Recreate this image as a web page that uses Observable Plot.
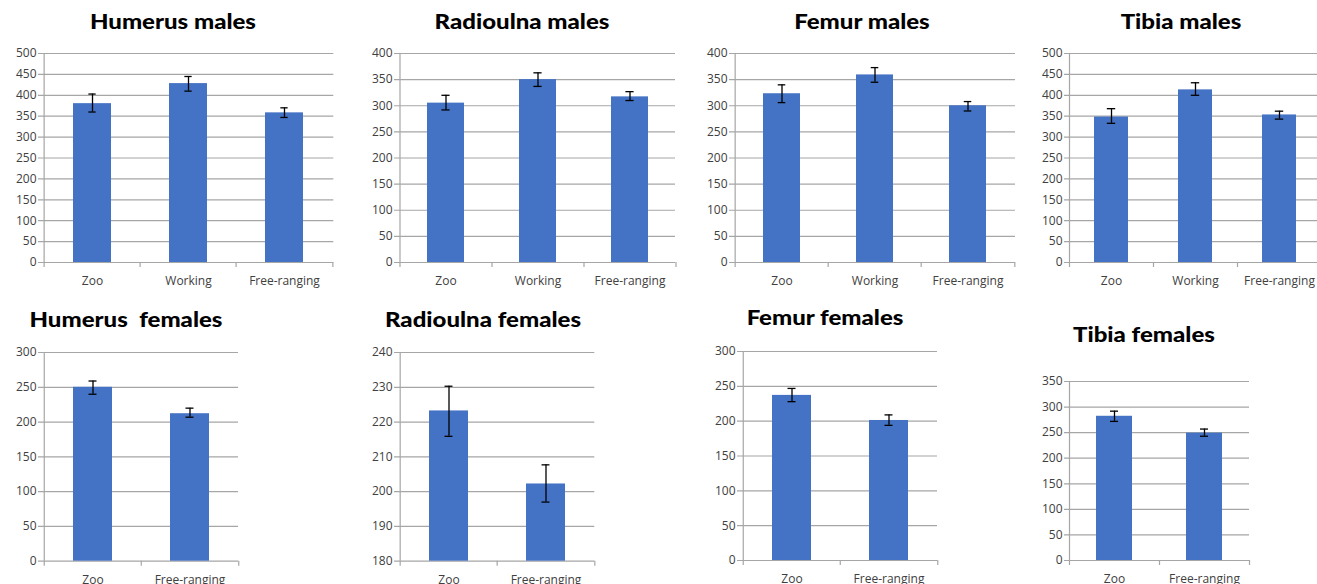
<!DOCTYPE html>
<html><head><meta charset="utf-8">
<script src="https://cdn.jsdelivr.net/npm/d3@7"></script>
<script src="https://cdn.jsdelivr.net/npm/@observablehq/plot@0.6"></script>
<style>
html,body{margin:0;padding:0;background:#fff;overflow:hidden}
#chart{position:relative;width:1317px;height:584px;overflow:hidden;background:#fff}
.panel{position:absolute}
.title{position:absolute;font-family:Lato,"Open Sans",sans-serif;font-weight:900;font-size:20.5px;color:#000;white-space:pre;text-align:center;width:300px;line-height:20px;transform:scaleX(1.17);transform-origin:150px 50%}
</style></head><body><div id="chart"></div>
<script>
// ---- data ----
const maleGroups = ["Zoo", "Working", "Free-ranging"];
const femaleGroups = ["Zoo", "Free-ranging"];

const titles = ["Humerus males", "Radioulna males", "Femur males", "Tibia males",
                "Humerus  females", "Radioulna females", "Femur females", "Tibia females"];

const humerusMalesMean = [380, 428, 358];
const humerusMalesLow  = [360, 410, 347];
const humerusMalesHigh = [403, 445, 370];

const radioulnaMalesMean = [305, 350, 317];
const radioulnaMalesLow  = [292, 337, 310];
const radioulnaMalesHigh = [320, 363, 327];

const femurMalesMean = [323, 359, 300];
const femurMalesLow  = [306, 345, 290];
const femurMalesHigh = [340, 373, 308];

const tibiaMalesMean = [348, 413, 353];
const tibiaMalesLow  = [333, 400, 343];
const tibiaMalesHigh = [368, 430, 362];

const humerusFemalesMean = [250, 212];
const humerusFemalesLow  = [240, 207];
const humerusFemalesHigh = [259, 220];

const radioulnaFemalesMean = [223.2, 202.2];
const radioulnaFemalesLow  = [215.9, 197.0];
const radioulnaFemalesHigh = [230.3, 207.7];

const femurFemalesMean = [237, 201];
const femurFemalesLow  = [228, 194];
const femurFemalesHigh = [247, 209];

const tibiaFemalesMean = [282, 249];
const tibiaFemalesLow  = [272, 243];
const tibiaFemalesHigh = [292, 257];

const ticks500 = [0, 50, 100, 150, 200, 250, 300, 350, 400, 450, 500];
const ticks400 = [0, 50, 100, 150, 200, 250, 300, 350, 400];
const ticks350 = [0, 50, 100, 150, 200, 250, 300, 350];
const ticks300 = [0, 50, 100, 150, 200, 250, 300];
const ticks180to240 = [180, 190, 200, 210, 220, 230, 240];

// ---- layout (pixel frame of each panel) ----
const layout = [
  {x0: 42.7, x1: 333, yTop: 53.3, yBot: 262.3, tx: 173, tb: 28.3},
  {x0: 399, x1: 675, yTop: 53.3, yBot: 262.3, tx: 522, tb: 28.3},
  {x0: 734, x1: 1015, yTop: 53.3, yBot: 262.3, tx: 862, tb: 28.3},
  {x0: 1069, x1: 1321, yTop: 53.3, yBot: 262.3, tx: 1181, tb: 28.3},
  {x0: 42.7, x1: 237.7, yTop: 352.3, yBot: 561, tx: 126, tb: 326.7},
  {x0: 399, x1: 594.3, yTop: 352.3, yBot: 561, tx: 483, tb: 326.7},
  {x0: 742.3, x1: 937.3, yTop: 351, yBot: 560, tx: 825, tb: 325},
  {x0: 1069, x1: 1249, yTop: 381, yBot: 560, tx: 1143.5, tb: 341.7}
];

const series = [
  [maleGroups, humerusMalesMean, humerusMalesLow, humerusMalesHigh, [0, 500], ticks500],
  [maleGroups, radioulnaMalesMean, radioulnaMalesLow, radioulnaMalesHigh, [0, 400], ticks400],
  [maleGroups, femurMalesMean, femurMalesLow, femurMalesHigh, [0, 400], ticks400],
  [maleGroups, tibiaMalesMean, tibiaMalesLow, tibiaMalesHigh, [0, 500], ticks500],
  [femaleGroups, humerusFemalesMean, humerusFemalesLow, humerusFemalesHigh, [0, 300], ticks300],
  [femaleGroups, radioulnaFemalesMean, radioulnaFemalesLow, radioulnaFemalesHigh, [180, 240], ticks180to240],
  [femaleGroups, femurFemalesMean, femurFemalesLow, femurFemalesHigh, [0, 300], ticks300],
  [femaleGroups, tibiaFemalesMean, tibiaFemalesLow, tibiaFemalesHigh, [0, 350], ticks350]
];

const BLUE = "#4472C4", GRID = "#a6a6a6", TXT = "#404040";
const chart = document.getElementById("chart");

series.forEach(([cats, mean, low, high, domain, ticks], k) => {
  const L = layout[k];
  const mL = 45, mR = 3, mT = 10, mB = 30;
  const W = L.x1 - L.x0;
  const step = W / cats.length, bw = 0.4 * step, cap = 8;
  const inset = (bw - cap) / 2;
  const rows = cats.map((c, i) => ({cat: c, mean: mean[i], low: low[i], high: high[i]}));
  const last = [cats[cats.length - 1]];
  const plot = Plot.plot({
    width: W + mL + mR,
    height: (L.yBot - L.yTop) + mT + mB,
    marginLeft: mL, marginRight: mR, marginTop: mT, marginBottom: mB,
    style: {fontFamily: '"Open Sans", sans-serif', background: "transparent", overflow: "visible"},
    x: {domain: cats, paddingInner: 0.6, paddingOuter: 0.3, align: 0.5},
    y: {domain, ticks},
    marks: [
      Plot.ruleY(ticks, {y: d => d, stroke: GRID, strokeWidth: 1.2, insetLeft: -5}),
      Plot.ruleX([cats[0]], {x: d => d, dx: -step / 2, y1: domain[0], y2: domain[1], stroke: GRID, strokeWidth: 1.2}),
      Plot.ruleX(cats, {x: d => d, dx: -step / 2, y1: domain[0], y2: domain[0], insetTop: 0, insetBottom: -5, stroke: GRID, strokeWidth: 1.2}),
      Plot.ruleX(last, {x: d => d, dx: step / 2, y1: domain[0], y2: domain[0], insetTop: 0, insetBottom: -5, stroke: GRID, strokeWidth: 1.2}),
      Plot.barY(rows, {x: "cat", y1: domain[0], y2: "mean", fill: BLUE}),
      Plot.ruleX(rows, {x: "cat", y1: "low", y2: "high", stroke: "#000", strokeWidth: 1.3}),
      Plot.tickY(rows, {x: "cat", y: "low", stroke: "#000", strokeWidth: 1.3, insetLeft: inset, insetRight: inset}),
      Plot.tickY(rows, {x: "cat", y: "high", stroke: "#000", strokeWidth: 1.3, insetLeft: inset, insetRight: inset}),
      Plot.axisY({ticks, tickSize: 0, tickPadding: 7, fontSize: 12, fill: TXT, label: null}),
      Plot.axisX({tickSize: 0, tickPadding: 14, fontSize: 12, fill: TXT, label: null})
    ]
  });
  plot.classList.add("panel");
  plot.style.left = (L.x0 - mL) + "px";
  plot.style.top = (L.yTop - mT) + "px";
  chart.appendChild(plot);

  const t = document.createElement("div");
  t.className = "title";
  t.textContent = titles[k];
  t.style.left = (L.tx - 150) + "px";
  t.style.top = (L.tb - 17.7) + "px";
  chart.appendChild(t);
});
</script>
</body></html>
